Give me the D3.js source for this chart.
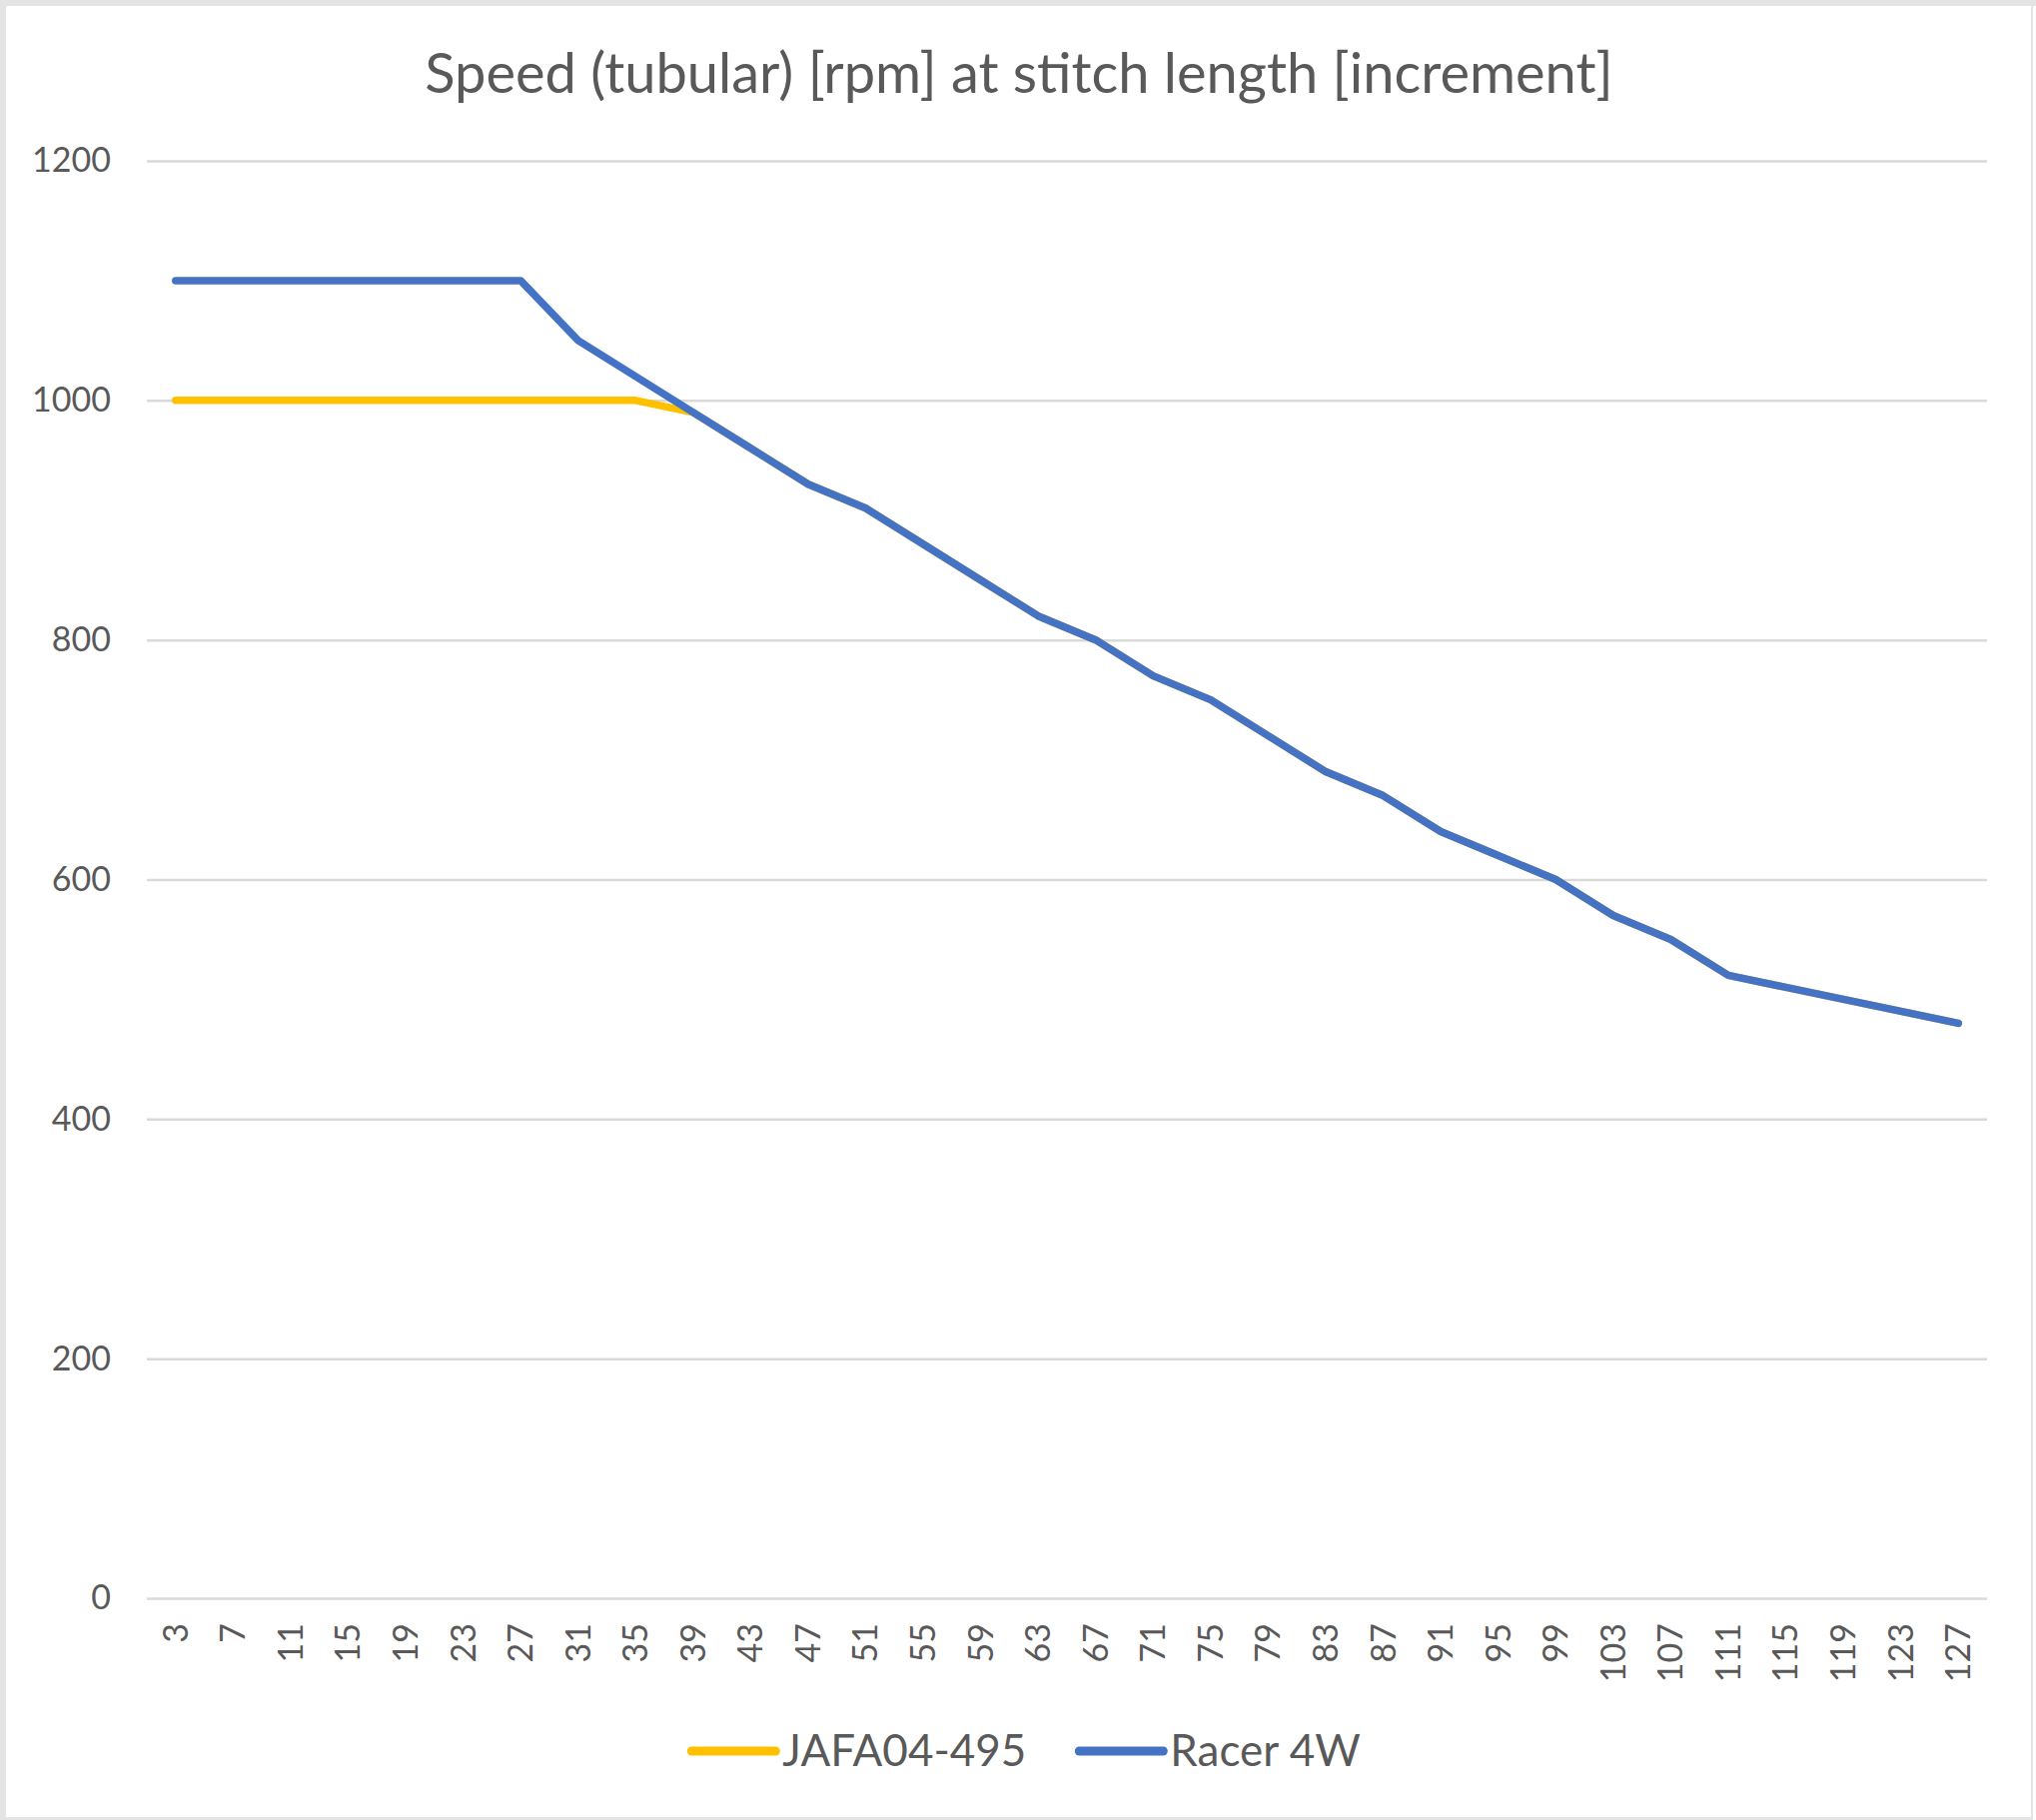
<!DOCTYPE html>
<html>
<head>
<meta charset="utf-8">
<script src="https://cdn.jsdelivr.net/npm/d3@7"></script>
<style>
  html, body { margin: 0; padding: 0; background: #ffffff; }
  svg { display: block; }
  text { font-family: Lato, "Open Sans", sans-serif; fill: #595959; }
</style>
</head>
<body>
<div id="chart"></div>
<script>
// stitch length increments (x categories)
var stitch_length = [3, 7, 11, 15, 19, 23, 27, 31, 35, 39, 43, 47, 51, 55, 59, 63,
                     67, 71, 75, 79, 83, 87, 91, 95, 99, 103, 107, 111, 115, 119, 123, 127];

// speed [rpm] per machine
var jafa_speed = [1000, 1000, 1000, 1000, 1000, 1000, 1000, 1000, 1000, 990, 960, 930, 910, 880, 850, 820,
                  800, 770, 750, 720, 690, 670, 640, 620, 600, 570, 550, 520, 510, 500, 490, 480];
var racer_speed = [1100, 1100, 1100, 1100, 1100, 1100, 1100, 1050, 1020, 990, 960, 930, 910, 880, 850, 820,
                   800, 770, 750, 720, 690, 670, 640, 620, 600, 570, 550, 520, 510, 500, 490, 480];

var y_ticks = [0, 200, 400, 600, 800, 1000, 1200];
var series_names = ["JAFA04-495", "Racer 4W"];
var series_colors = ["#FFC000", "#4472C4"];

var width = 2038, height = 1822;

var svg = d3.select("#chart")
  .append("svg")
    .attr("width", width)
    .attr("height", height);

// frame round the chart
svg.append("rect").attr("x", 0).attr("y", 0).attr("width", width).attr("height", height).attr("fill", "#e4e4e4");
svg.append("rect").attr("x", 6).attr("y", 6).attr("width", 2027).attr("height", 1813).attr("fill", "#ffffff");
svg.append("rect").attr("x", 2035).attr("y", 6).attr("width", 3).attr("height", 1816).attr("fill", "#ffffff");

// plot area
var plot = {left: 147, right: 1989, top: 161, bottom: 1600};

var x = d3.scaleBand()
  .domain(stitch_length)
  .range([plot.left, plot.right]);

var y = d3.scaleLinear()
  .domain([0, 1200])
  .range([plot.bottom, plot.top]);

// title
svg.append("text")
  .attr("x", 1020)
  .attr("y", 93)
  .attr("text-anchor", "middle")
  .style("font-size", "56px")
  .text("Speed (tubular) [rpm] at stitch length [increment]");

// y gridlines + labels
var yAxis = d3.axisLeft(y)
  .tickValues(y_ticks)
  .tickFormat(d3.format("d"))
  .tickSize(-(plot.right - plot.left))
  .tickPadding(36);

var gy = svg.append("g")
  .attr("transform", `translate(${plot.left},0)`)
  .call(yAxis);
gy.select(".domain").remove();
gy.selectAll(".tick line")
  .attr("stroke", "#d9d9d9")
  .attr("stroke-width", 2.5);
gy.selectAll(".tick text")
  .attr("fill", "#595959")
  .style("font-family", "Lato, 'Open Sans', sans-serif")
  .style("font-size", "34px");

// x labels (rotated)
var xAxis = d3.axisBottom(x).tickSize(0).tickPadding(0);
var gx = svg.append("g")
  .attr("transform", `translate(0,${plot.bottom})`)
  .call(xAxis);
gx.select(".domain").remove();
gx.selectAll(".tick text")
  .attr("fill", "#595959")
  .style("font-family", "Lato, 'Open Sans', sans-serif")
  .style("font-size", "34px")
  .attr("transform", "rotate(-90)")
  .attr("x", -25)
  .attr("y", 0)
  .attr("dy", "0.35em")
  .attr("text-anchor", "end");

// lines
var line = d3.line()
  .x(function(d, i) { return x(stitch_length[i]) + x.bandwidth() / 2; })
  .y(function(d) { return y(d); });

var all_series = [jafa_speed, racer_speed];
svg.selectAll(".series")
  .data(all_series)
  .enter()
  .append("path")
    .attr("class", "series")
    .attr("d", line)
    .attr("fill", "none")
    .attr("stroke", function(d, i) { return series_colors[i]; })
    .attr("stroke-width", 7.5)
    .attr("stroke-linecap", "round")
    .attr("stroke-linejoin", "round");

// legend
var legend = svg.append("g");
var items = legend.selectAll(".item")
  .data(series_names)
  .enter()
  .append("g")
    .attr("class", "item");
items.append("line")
  .attr("x1", 0).attr("x2", 84)
  .attr("y1", 0).attr("y2", 0)
  .attr("stroke", function(d, i) { return series_colors[i]; })
  .attr("stroke-width", 9)
  .attr("stroke-linecap", "round");
items.append("text")
  .attr("x", 91)
  .attr("y", 0)
  .attr("dy", "0.35em")
  .style("font-size", "44px")
  .text(function(d) { return d; });

var offset = 0;
var widths = [];
items.each(function() { widths.push(this.getBBox().width); });
var total = d3.sum(widths) + 53 * (widths.length - 1);
var start = 1027 - total / 2;
items.attr("transform", function(d, i) {
  var tx = start + offset;
  offset += widths[i] + 53;
  return `translate(${tx},1753)`;
});
</script>
</body>
</html>
